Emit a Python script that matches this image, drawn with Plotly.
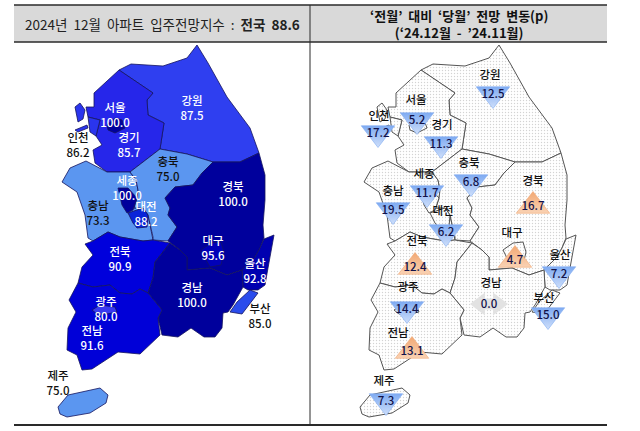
import plotly.graph_objects as go

# both maps use the same outlines, right one is just moved over
MAP_SHIFT = 302

REGIONS = ["강원", "서울", "경기", "인천", "충북", "세종", "충남", "대전", "경북",
           "대구", "울산", "전북", "경남", "부산", "광주", "전남", "제주"]
INDEX_VALUES = ["87.5", "100.0", "85.7", "86.2", "75.0", "100.0", "73.3", "88.2", "100.0",
                "95.6", "92.8", "90.9", "100.0", "85.0", "80.0", "91.6", "75.0"]
CHANGE_VALUES = ["12.5", "5.2", "11.3", "17.2", "6.8", "11.7", "19.5", "6.2", "16.7",
                 "4.7", "7.2", "12.4", "0.0", "15.0", "14.4", "13.1", "7.3"]
CHANGE_DIRECTION = ["down", "down", "down", "down", "down", "down", "down", "down", "up",
                    "up", "down", "up", "flat", "down", "down", "up", "down"]

FILL_COLORS = ["#2f3ff0", "#00009c", "#2626ea", "#2a35ee", "#5b96f0", "#00009c", "#5b96f0", "#0a24d8", "#00009c",
               "#0000b8", "#0000b0", "#0000dc", "#00009c", "#2a4cec", "#3a3af0", "#0000d8", "#5b96f0"]

OUTLINES = {
    "강원": [(119, 70), (131, 64), (163, 66), (187, 58), (197, 45), (208, 63), (227, 97), (250, 128), (259, 153),
           (240, 162), (213, 162), (187, 154), (160, 149), (164, 123), (148, 115), (147, 100), (153, 93)],
    "경기": [(119, 70), (94, 93), (94, 107), (86, 107), (88, 117), (100, 120), (96, 136), (102, 145), (93, 150),
           (95, 163), (107, 172), (130, 172), (160, 149), (164, 123), (148, 115), (147, 100), (153, 93)],
    "서울": [(107, 125), (115, 118), (122, 120), (125, 128), (115, 133), (108, 130)],
    "인천": [(88, 117), (100, 120), (96, 136), (90, 132)],
    "인천섬1": [(75, 107), (80, 103), (85, 110), (83, 119), (78, 122)],
    "인천섬2": [(75, 130), (87, 125), (88, 128), (78, 132)],
    "충북": [(130, 172), (160, 149), (187, 154), (213, 162), (202, 173), (193, 185), (175, 187), (165, 198),
           (170, 208), (168, 215), (177, 227), (168, 241), (153, 240), (153, 237), (148, 215), (143, 208), (134, 208),
           (137, 198), (138, 190), (136, 180)],
    "충남": [(62, 182), (70, 168), (86, 161), (107, 172), (130, 172), (136, 180), (138, 190), (137, 198), (134, 208),
           (143, 208), (148, 215), (153, 237), (153, 240), (143, 241), (137, 240), (120, 237), (108, 232), (93, 241),
           (88, 238), (85, 215), (77, 192)],
    "세종": [(118, 188), (128, 188), (137, 198), (133, 210), (127, 213), (122, 205)],
    "대전": [(128, 213), (143, 208), (148, 215), (147, 227), (137, 228), (133, 223)],
    "경북": [(259, 153), (265, 175), (265, 200), (263, 225), (264, 238), (260, 248), (255, 257), (242, 270), (227, 275),
           (210, 268), (187, 270), (187, 257), (180, 250), (170, 243), (168, 241), (177, 227), (168, 215), (170, 208),
           (165, 198), (175, 187), (193, 185), (202, 173), (213, 162), (240, 162)],
    "대구": [(201, 250), (211, 243), (221, 242), (224, 252), (221, 265), (210, 267), (205, 258)],
    "울산": [(264, 239), (274, 235), (268, 268), (265, 285), (258, 290), (248, 290), (243, 287), (242, 270), (255, 257), (260, 248)],
    "전북": [(85, 244), (93, 241), (108, 232), (120, 237), (137, 240), (143, 241), (153, 240), (170, 243), (155, 262),
           (153, 278), (148, 293), (140, 289), (132, 294), (120, 293), (110, 285), (93, 287), (78, 283), (82, 267), (93, 255)],
    "경남": [(170, 243), (180, 250), (187, 257), (187, 270), (210, 268), (227, 275), (242, 270), (243, 287), (233, 305),
           (228, 312), (223, 313), (222, 328), (215, 337), (204, 337), (191, 328), (178, 337), (162, 335), (158, 318),
           (162, 310), (148, 293), (153, 278), (155, 262)],
    "부산": [(230, 312), (237, 302), (250, 290), (258, 293), (242, 314)],
    "전남": [(78, 283), (69, 300), (76, 312), (68, 328), (67, 350), (77, 355), (82, 370), (92, 369), (118, 352), (140, 354),
           (160, 335), (158, 318), (162, 310), (148, 293), (140, 289), (132, 294), (120, 293), (110, 285), (93, 287)],
    "광주": [(92, 310), (100, 305), (115, 307), (117, 312), (107, 314), (97, 314)],
    "제주": [(58, 407), (68, 395), (100, 388), (108, 395), (106, 403), (90, 413), (67, 417), (60, 414)],
}
# drawing order, small areas go on top of the big ones
DRAW_ORDER = ["강원", "경기", "인천", "인천섬1", "인천섬2", "서울", "충남", "충북", "세종", "대전", "경북", "대구", "울산",
              "전북", "경남", "부산", "전남", "광주", "제주"]

# left map label centres (name and value are one two-line label)
LABEL_X = [192, 115, 129, 78, 168, 127, 98, 146, 233, 213, 255, 120, 192, 260, 106, 92, 58]
LABEL_Y = [110, 117, 147, 147, 171, 190, 215, 216, 196, 250, 273, 261, 297, 318, 311, 340, 385]
LABEL_COLORS = ["white", "white", "white", "#111", "#111", "white", "#111", "white", "white",
                "white", "white", "white", "white", "#111", "white", "white", "#111"]

# right map labels and markers
CHANGE_NAME_X = [490, 416, 442, 379, 469, 424, 393, 443, 533, 512, 560, 417, 491, 544, 408, 398, 384]
CHANGE_NAME_Y = [76, 101, 126, 117, 164, 175, 192, 212, 182, 234, 256, 242, 284, 299, 288, 334, 382]
MARKER_X = [493, 417, 441, 378, 471, 427, 393, 446, 533, 515, 559, 415, 489, 548, 407, 412, 386]
MARKER_Y = [94, 120, 144, 133, 182, 193, 210, 232, 206, 260, 274, 267, 304, 315, 309, 351, 401]

FONT = "Noto Sans CJK KR"
DOWN_COLOR = "#7fabf2"
UP_COLOR = "#f2a873"
FLAT_COLOR = "#e2e2e2"

fig = go.Figure()


def region_color(key):
    base = key.replace("섬1", "").replace("섬2", "")
    return FILL_COLORS[REGIONS.index(base)]


# left map
for key in DRAW_ORDER:
    pts = OUTLINES[key]
    fig.add_trace(go.Scatter(x=[p[0] for p in pts] + [pts[0][0]], y=[p[1] for p in pts] + [pts[0][1]],
                             mode="lines", fill="toself", fillcolor=region_color(key),
                             line=dict(color="#14145e", width=0.8), hoverinfo="skip"))

# right map, dotted
for key in DRAW_ORDER:
    pts = OUTLINES[key]
    fig.add_trace(go.Scatter(x=[p[0] + MAP_SHIFT for p in pts] + [pts[0][0] + MAP_SHIFT],
                             y=[p[1] for p in pts] + [pts[0][1]],
                             mode="lines", fill="toself", fillcolor="white",
                             fillpattern=dict(shape=".", size=3, solidity=0.16, fgcolor="#a8a8a8", bgcolor="white"),
                             line=dict(color="#555555", width=1), hoverinfo="skip"))

# change markers
for direction, symbol, color, fade in [("down", "triangle-down", DOWN_COLOR, "#cfdffa"),
                                        ("up", "triangle-up", UP_COLOR, "#f9d2b4")]:
    idx = [i for i, d in enumerate(CHANGE_DIRECTION) if d == direction]
    fig.add_trace(go.Scatter(x=[MARKER_X[i] for i in idx], y=[MARKER_Y[i] for i in idx], mode="markers",
                             marker=dict(symbol=symbol, size=29, color=color,
                                         gradient=dict(type="vertical", color=fade),
                                         line=dict(width=0.6, color=color)),
                             hoverinfo="skip"))

# 0.0 is a two-way arrow, made of two triangles and a bar
idx = [i for i, d in enumerate(CHANGE_DIRECTION) if d == "flat"]
for symbol, dx, size in [("triangle-left", -9, 20), ("triangle-right", 9, 20), ("square", 0, 11)]:
    fig.add_trace(go.Scatter(x=[MARKER_X[i] + dx for i in idx], y=[MARKER_Y[i] for i in idx], mode="markers",
                             marker=dict(symbol=symbol, size=size, color=FLAT_COLOR), hoverinfo="skip"))

# left labels
fig.add_trace(go.Scatter(x=LABEL_X, y=LABEL_Y, mode="text", hoverinfo="skip",
                         text=[f"{n}<br>{v}" for n, v in zip(REGIONS, INDEX_VALUES)],
                         textfont=dict(family=FONT, size=11.5, color=LABEL_COLORS, weight=500)))

# right labels
fig.add_trace(go.Scatter(x=CHANGE_NAME_X, y=CHANGE_NAME_Y, mode="text", text=REGIONS, hoverinfo="skip",
                         textfont=dict(family=FONT, size=11.5, color="#111", weight=500)))
fig.add_trace(go.Scatter(x=MARKER_X, y=[y + 1 for y in MARKER_Y], mode="text", text=CHANGE_VALUES, hoverinfo="skip",
                         textfont=dict(family=FONT, size=11.5, color="#12124a", weight=500)))

# header band and frame
fig.add_shape(type="rect", x0=14, x1=607, y0=5, y1=42, fillcolor="#d9d9d9", line_width=0, layer="below")
for x0, y0, x1, y1, w in [(14, 5, 607, 5, 1.5), (14, 42, 607, 42, 1.5), (14, 425, 607, 425, 2), (310, 5, 310, 425, 1)]:
    fig.add_shape(type="line", x0=x0, x1=x1, y0=y0, y1=y1, line=dict(color="#2a2a2a", width=w))

SP = "\u00a0\u00a0"
fig.add_annotation(x=162, y=24, showarrow=False, font=dict(family=FONT, size=13.5, color="#222"),
                   text=f"2024년{SP}12월{SP}아파트{SP}입주전망지수{SP}:{SP}<b>전국{SP}88.6</b>")
fig.add_annotation(x=459, y=24, showarrow=False, font=dict(family=FONT, size=13, color="#111"),
                   text=f"<b>‘전월’{SP}대비{SP}‘당월’{SP}전망{SP}변동(p)<br>(‘24.12월{SP}-{SP}’24.11월)</b>")

fig.update_xaxes(range=[0, 640], visible=False, fixedrange=True)
fig.update_yaxes(range=[431, 0], visible=False, fixedrange=True)
fig.update_layout(width=640, height=431, margin=dict(l=0, r=0, t=0, b=0), showlegend=False,
                  plot_bgcolor="white", paper_bgcolor="white")

fig.write_html("out.html", config=dict(displayModeBar=False), post_script="document.body.style.margin='0';")
